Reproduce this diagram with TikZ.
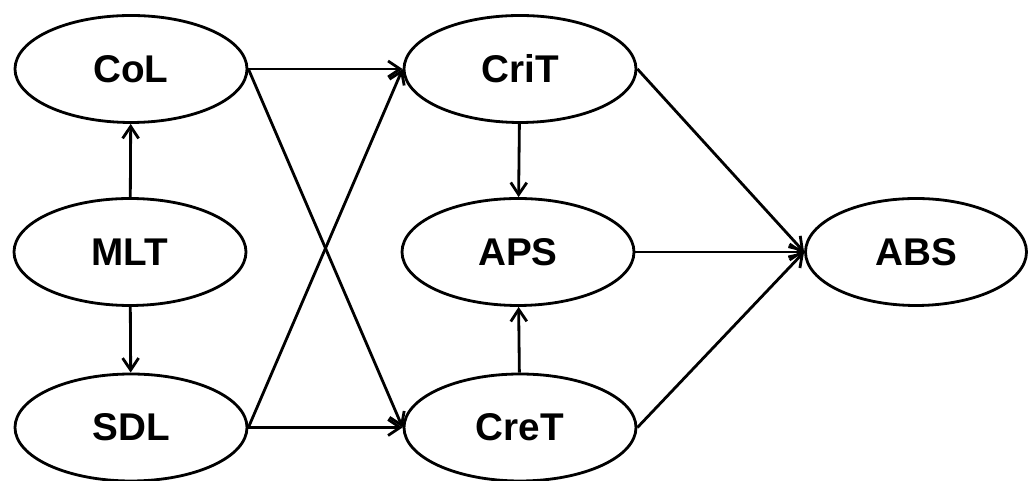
\documentclass[tikz,border=0pt]{standalone}
\usepackage{fontspec}
\setmainfont{Liberation Sans}
\usetikzlibrary{
  shapes.geometric,
  arrows.meta
}

\begin{document}
\begin{tikzpicture}
  \tikzset{
    var/.style = {
      ellipse, draw, line width=1.6pt,
      minimum width=4.64cm, minimum height=2.14cm, inner sep=0pt,
      font=\fontsize{22}{26}\selectfont\bfseries
    },
    path/.style = {
      line width=1.6pt,
      -{Straight Barb[length=2.4mm,width=3.2mm,line width=1.6pt]}
    }
  }
  \useasboundingbox (0,0) rectangle (20.58,9.62);

  % left column
  \node[var] (CoL) at (2.62,8.24) {CoL};
  \node[var] (MLT) at (2.60,4.58) {MLT};
  \node[var] (SDL) at (2.62,1.07) {SDL};
  % middle column
  \node[var] (CriT) at (10.40,8.24) {CriT};
  \node[var] (APS) at (10.36,4.58) {APS};
  \node[var] (CreT) at (10.40,1.07) {CreT};
  % outcome
  \node[var, minimum width=4.42cm] (ABS) at (18.32,4.58) {ABS};

  \draw[path] (MLT) -- (CoL);
  \draw[path] (MLT) -- (SDL);

  % both learning styles feed both kinds of thinking
  \foreach \a in {CoL,SDL}
    \foreach \b in {CriT,CreT}
      \draw[path] (\a.east) -- (\b.west);

  \draw[path] (CriT) -- (APS);
  \draw[path] (CreT) -- (APS);

  \foreach \a in {CriT,APS,CreT}
    \draw[path] (\a.east) -- (ABS.west);
\end{tikzpicture}
\end{document}
